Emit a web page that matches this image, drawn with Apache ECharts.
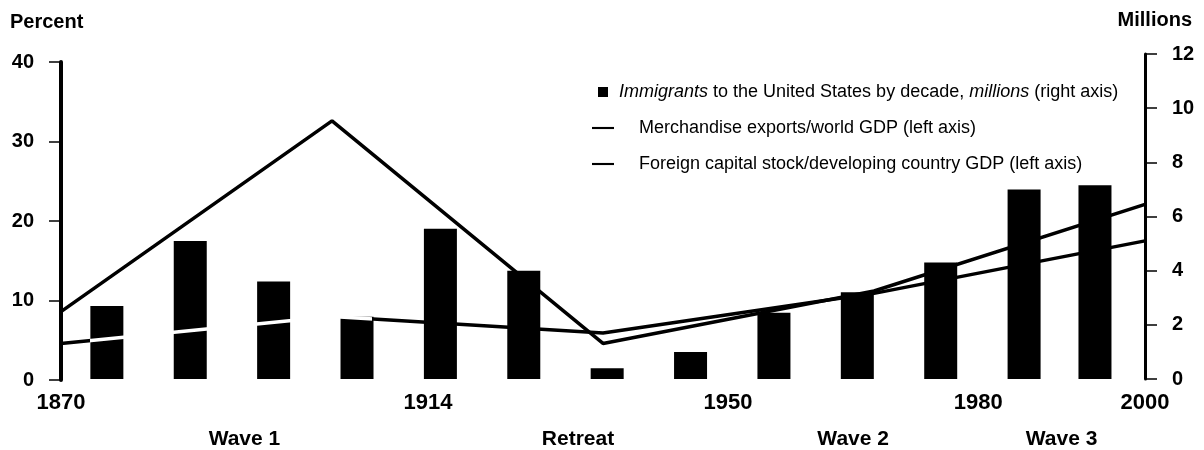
<!DOCTYPE html>
<html>
<head>
<meta charset="utf-8">
<script src="https://cdn.jsdelivr.net/npm/echarts@6/dist/echarts.min.js"></script>
<style>
  html, body { margin: 0; padding: 0; background: #fff; }
  #chart { width: 1204px; height: 450px; }
</style>
</head>
<body>
<div id="chart"></div>
<script>
// ---- data ----
const lineYears = ['1870', '1914', '1950', '1973', '1998'];
const capitalStock = [8.6, 32.6, 4.6, 11.2, 22.1];     // Foreign capital stock / developing country GDP, %
const merchExports = [4.6, 8.0, 5.9, 10.9, 17.5];      // Merchandise exports / world GDP, %

const immigDecades = ['1870s','1880s','1890s','1900s','1910s','1920s','1930s','1940s','1950s','1960s','1970s','1980s','1990s'];
const immigMid = [1875.5, 1885.5, 1895.5, 1905.5, 1915.5, 1925.5, 1935.5, 1945.5, 1955.5, 1965.5, 1975.5, 1985.5, 1994];
const immigrants = [2.7, 5.1, 3.6, 2.3, 5.55, 4.0, 0.4, 1.0, 2.45, 3.2, 4.3, 7.0, 7.15]; // millions

const yearTicks = [1870, 1914, 1950, 1980, 2000];
const periodNames = ['Wave 1', 'Retreat', 'Wave 2', 'Wave 3'];

const nameImmig = 'Immigrants to the United States by decade, millions (right axis)';
const nameMerch = 'Merchandise exports/world GDP (left axis)';
const nameCap = 'Foreign capital stock/developing country GDP (left axis)';

// ---- derived ----
const periodMid = periodNames.map((n, i) => (yearTicks[i] + yearTicks[i + 1]) / 2);
const barData = immigMid.map((x, i) => [x, immigrants[i]]);

const BOLD = "'Liberation Sans', Arial, sans-serif";
const NARROW = "'Liberation Sans Narrow', 'Liberation Sans', Arial, sans-serif";

const chart = echarts.init(document.getElementById('chart'), null, { renderer: 'canvas' });

const lineIcon = 'path://M0,0H27V2.6H0Z';

const option = {
  backgroundColor: '#fff',
  animation: false,
  grid: [
    { left: 61, right: 59, top: 62, bottom: 69 },
    { left: 61, right: 59, top: 54, bottom: 71 }
  ],
  graphic: [
    { type: 'text', left: 10, top: 12, style: { text: 'Percent', font: "bold 20px " + BOLD, fill: '#000' } },
    { type: 'text', right: 12, top: 10, style: { text: 'Millions', font: "bold 20px " + BOLD, fill: '#000' } }
  ],
  legend: {
    orient: 'vertical',
    left: 587,
    top: 78,
    itemWidth: 22,
    itemHeight: 10,
    itemGap: 18,
    selectedMode: false,
    textStyle: {
      fontFamily: NARROW, fontSize: 18, color: '#000',
      rich: {
        p: { fontFamily: NARROW, fontSize: 18, color: '#000', padding: [0, 0, 0, 20] },
        i: { fontFamily: NARROW, fontSize: 18, color: '#000', fontStyle: 'italic' },
        n: { fontFamily: NARROW, fontSize: 18, color: '#000' }
      }
    },
    formatter: function (name) {
      if (name === nameImmig) {
        return '{i|Immigrants}{n| to the United States by decade, }{i|millions}{n| (right axis)}';
      }
      return '{p|' + name + '}';
    },
    data: [
      { name: nameImmig, icon: 'path://M0,0H10V10H0Z', itemStyle: { color: '#000' } },
      { name: nameMerch, icon: lineIcon, itemStyle: { color: '#000' } },
      { name: nameCap, icon: lineIcon, itemStyle: { color: '#000' } }
    ]
  },
  xAxis: [
    { // 0: year axis
      type: 'value', gridIndex: 0, min: 1870, max: 2000,
      axisLine: { show: false }, axisTick: { show: false }, splitLine: { show: false },
      axisLabel: {
        customValues: yearTicks, margin: 12,
        fontFamily: BOLD, fontWeight: 'bold', fontSize: 22, color: '#000',
        formatter: v => String(v)
      }
    },
    { // 1: benchmark years for the lines
      type: 'category', gridIndex: 0, data: lineYears, boundaryGap: false, show: false
    },
    { // 2: bars axis
      type: 'value', gridIndex: 1, min: 1870, max: 2000, show: false
    },
    { // 3: period labels
      type: 'value', gridIndex: 0, min: 1870, max: 2000, position: 'bottom',
      axisLine: { show: false }, axisTick: { show: false }, splitLine: { show: false },
      axisLabel: {
        customValues: periodMid, margin: 49,
        fontFamily: NARROW, fontWeight: 'bold', fontSize: 21, color: '#000',
        formatter: v => periodNames[periodMid.indexOf(v)]
      }
    }
  ],
  yAxis: [
    {
      type: 'value', gridIndex: 0, position: 'left', min: 0, max: 40, interval: 10,
      axisLine: { show: true, lineStyle: { color: '#000', width: 4 } },
      axisTick: { show: true, length: 12, lineStyle: { color: '#000', width: 1.5 } },
      splitLine: { show: false },
      axisLabel: { margin: 27, fontFamily: BOLD, fontWeight: 'bold', fontSize: 20, color: '#000' }
    },
    {
      type: 'value', gridIndex: 1, position: 'right', min: 0, max: 12, interval: 2,
      axisLine: { show: true, lineStyle: { color: '#000', width: 3 } },
      axisTick: { show: true, length: 12, lineStyle: { color: '#000', width: 1.5 } },
      splitLine: { show: false },
      axisLabel: { margin: 27, fontFamily: BOLD, fontWeight: 'bold', fontSize: 20, color: '#000' }
    }
  ],
  series: [
    {
      name: nameImmig, type: 'bar', xAxisIndex: 2, yAxisIndex: 1,
      data: barData, barWidth: 33,
      itemStyle: { color: '#000' }
    },
    {
      name: nameMerch, type: 'line', xAxisIndex: 1, yAxisIndex: 0,
      data: merchExports, symbol: 'none',
      lineStyle: {
        width: 3.5,
        color: new echarts.graphic.LinearGradient(0, 0, 1, 0, [
          { offset: 0, color: '#000' }, { offset: 0.0286, color: '#000' },
          { offset: 0.0287, color: '#fff' }, { offset: 0.288, color: '#fff' },
          { offset: 0.2881, color: '#000' }, { offset: 1, color: '#000' }
        ])
      },
      itemStyle: { color: '#000' }
    },
    {
      name: nameCap, type: 'line', xAxisIndex: 1, yAxisIndex: 0,
      data: capitalStock, symbol: 'none',
      lineStyle: { width: 3.5, color: '#000' },
      itemStyle: { color: '#000' }
    }
  ]
};

chart.setOption(option);
</script>
</body>
</html>
